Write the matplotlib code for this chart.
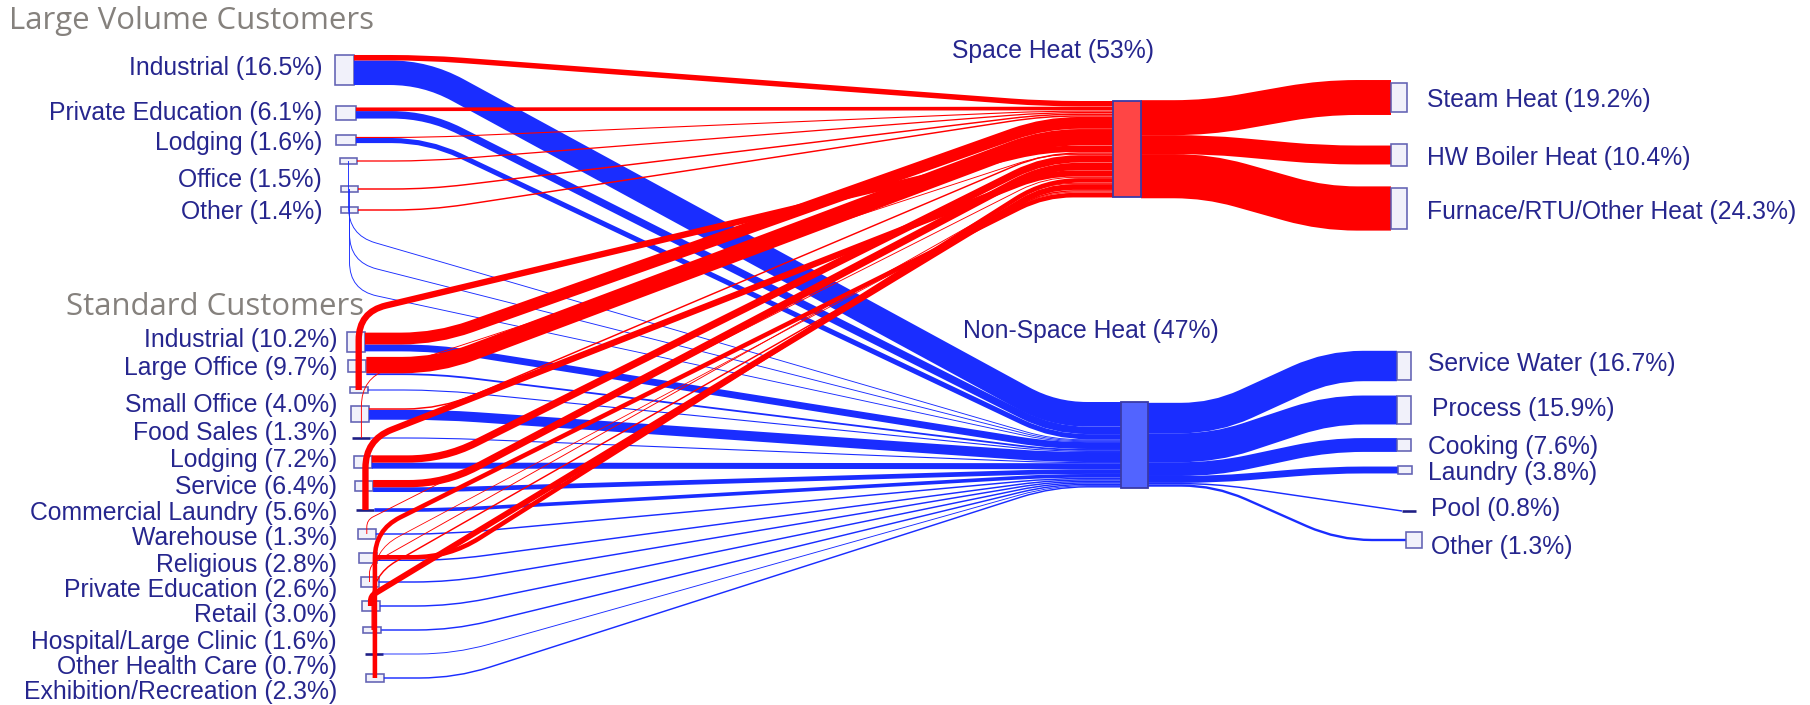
import numpy as np
import matplotlib
matplotlib.use("Agg")
import matplotlib.pyplot as plt
from matplotlib.path import Path
from matplotlib.patches import PathPatch, Rectangle

# ---------------- data (percent of total gas use) ----------------
lv_names = ["Industrial", "Private Education", "Lodging", "", "Office", "Other"]
lv_pct = [16.5, 6.1, 1.6, None, 1.5, 1.4]
lv_space = [3.0, 2.0, 0.6, 0.7, 0.8, 0.8]          # link widths to Space Heat
lv_nonspace = [13.5, 4.1, 2.8, 0.5, 0.5, 0.5]      # link widths to Non-Space Heat
lv_box = [16.1, 7.2, 5.0, 2.8, 2.8, 2.8]           # drawn node box heights

std_names = ["Industrial", "Large Office", "", "Small Office", "Food Sales", "Lodging",
             "Service", "Commercial Laundry", "Warehouse", "Religious",
             "Private Education", "Retail", "Hospital/Large Clinic",
             "Other Health Care", "Exhibition/Recreation"]
std_pct = [10.2, 9.7, None, 4.0, 1.3, 7.2, 6.4, 5.6, 1.3, 2.8, 2.6, 3.0, 1.6, 0.7, 2.3]
std_space = [6.5, 9.0, 3.5, 0.8, 0.5, 4.0, 4.0, 3.5, 0.5, 2.5, 0.5, 3.2, 0.8, 0.4, 2.5]
std_nonspace = [3.8, 1.0, 0.6, 5.5, 0.6, 3.3, 2.6, 2.0, 0.8, 0.8, 0.8, 0.8, 0.8, 0.5, 0.8]
std_box = [10.6, 6.7, 3.3, 8.3, 0, 6.7, 5.0, 0, 5.0, 5.6, 5.0, 5.0, 3.3, 0, 3.9]

mid_names = ["Space Heat", "Non-Space Heat"]
mid_pct = [53, 47]

sh_uses = ["Steam Heat", "HW Boiler Heat", "Furnace/RTU/Other Heat"]
sh_use_pct = [19.2, 10.4, 24.3]
sh_use_box = [16.1, 12.2, 22.8]
nsh_uses = ["Service Water", "Process", "Cooking", "Laundry", "Pool", "Other"]
nsh_use_pct = [16.7, 15.9, 7.6, 3.8, 0.8, 1.3]
nsh_use_box = [15.6, 15.6, 6.7, 3.9, 0, 8.3]

# ---------------- layout / style ----------------
K = 1.82                     # px per percent
RED = "#ff0000"
BLUE = "#1a2dff"
TXT = "#26268e"
TITLE = "#85817d"
BOX_FC = "#f1f1fa"
BOX_EC = "#5a5ab0"
LINE_EC = "#1e1e84"
FONT = "Liberation Sans"

lv_y = [70, 113, 140, 161, 189, 210]
lv_x = [335, 336, 336, 340, 341, 341]
lv_w = [19, 20, 20, 17, 17, 17]
lv_label_y = [68, 113, 143, None, 180, 212]
lv_label_x = 322
lv_nonspace_turn = [None, None, None, 235, 262, 290]

n_std = len(std_names)
std_y = [342 + 24 * i for i in range(n_std)]
std_x = [347 + 1.35 * i for i in range(n_std)]
std_w = [18] * n_std
std_label_y = [340, 368, None, 405, 433, 460, 487, 513, 538, 565, 590, 615, 642, 667, 692]
std_label_x = 337
std_space_turn = [None, None, 312, None, 378, None, None, 440, 520, None, 565, 596, 575, 550, 530]

mid_x = [1113, 1121]
mid_w = [28, 27]
mid_top = [101, 402]
mid_label_xy = [(1053, 51), (1091, 331)]

sh_use_y = [97.5, 155, 208.5]
sh_use_x = [1391, 1391, 1391]
nsh_use_y = [366, 410, 445, 470, 511, 540]
nsh_use_x = [1397, 1397, 1397, 1398, 1402, 1406]
use_w = 16
STUB_SRC = 72
STUB_IN = 68
STUB_OUT = 67

fig = plt.figure(figsize=(18.10, 7.05), dpi=100)
ax = fig.add_axes([0, 0, 1, 1])
ax.set_xlim(0, 1810)
ax.set_ylim(705, 0)
ax.axis("off")


def px2pt(px):
    return px * 72.0 / fig.dpi


def rounded(points, r):
    pts = [points[0]]
    for p in points[1:]:
        if np.hypot(p[0] - pts[-1][0], p[1] - pts[-1][1]) > 1e-6:
            pts.append(p)
    verts = [pts[0]]
    codes = [Path.MOVETO]
    for i in range(1, len(pts) - 1):
        A, C, B = np.array(pts[i - 1], float), np.array(pts[i], float), np.array(pts[i + 1], float)
        d1, d2 = C - A, B - C
        l1, l2 = np.hypot(*d1), np.hypot(*d2)
        re = min(r, l1 / 2, l2 / 2)
        q1 = C - d1 / l1 * re
        q2 = C + d2 / l2 * re
        verts += [tuple(q1), tuple(C), tuple(q2)]
        codes += [Path.LINETO, Path.CURVE3, Path.CURVE3]
    verts.append(pts[-1])
    codes.append(Path.LINETO)
    return Path(verts, codes)


def draw_link(points, width_pct, color, r, z):
    w = max(width_pct * K, 0.8)
    ax.add_patch(PathPatch(rounded(points, r), fill=False, edgecolor=color,
                           lw=px2pt(w), capstyle="butt", joinstyle="round", zorder=z))


# ---- build source nodes ----
sources = []
for i in range(len(lv_names)):
    sources.append(dict(x=lv_x[i], w=lv_w[i], y=lv_y[i], box=lv_box[i],
                        links=[(0, lv_space[i], None), (1, lv_nonspace[i], lv_nonspace_turn[i])]))
for i in range(n_std):
    sources.append(dict(x=std_x[i], w=std_w[i], y=std_y[i], box=std_box[i],
                        links=[(0, std_space[i], std_space_turn[i]), (1, std_nonspace[i], None)]))

links = []
for s in sources:
    hl = [l for l in s["links"] if l[2] is None]
    tot = sum(l[1] for l in hl) * K
    yy = s["y"] - tot / 2
    for tgt, v, turn in s["links"]:
        cx = s["x"] + s["w"] / 2
        if turn is None:
            sy = yy + v * K / 2
            yy += v * K
            links.append(dict(tgt=tgt, v=v, sx=s["x"] + s["w"], sy=sy, turn=None, order=s["y"]))
        else:
            links.append(dict(tgt=tgt, v=v, sx=cx, sy=s["y"], turn=turn, order=s["y"]))

for t in (0, 1):
    H = mid_pct[t] * K
    L = sorted([l for l in links if l["tgt"] == t], key=lambda d: d["order"])
    tot = sum(l["v"] for l in L) * K
    gap = max((H - tot) / (len(L) - 1), 0)
    yy = mid_top[t] + max((H - tot - gap * (len(L) - 1)) / 2, 0)
    for l in L:
        l["ty"] = yy + l["v"] * K / 2
        yy += l["v"] * K + gap

for t, color, z in ((1, BLUE, 2), (0, RED, 3)):
    for l in links:
        if l["tgt"] != t:
            continue
        tx = mid_x[t]
        if l["turn"] is None:
            pts = [(l["sx"], l["sy"]), (l["sx"] + STUB_SRC, l["sy"]),
                   (tx - STUB_IN, l["ty"]), (tx, l["ty"])]
            r = 40
        else:
            pts = [(l["sx"], l["sy"]), (l["sx"], l["turn"]),
                   (tx - STUB_IN, l["ty"]), (tx, l["ty"])]
            r = 28
        draw_link(pts, l["v"], color, r, z)

# ---- middle -> end uses ----
for t, uses_pct, uses_y, uses_x, color in ((0, sh_use_pct, sh_use_y, sh_use_x, RED),
                                            (1, nsh_use_pct, nsh_use_y, nsh_use_x, BLUE)):
    H = mid_pct[t] * K
    tot = sum(uses_pct) * K
    yy = mid_top[t] + (H - tot) / 2
    xr = mid_x[t] + mid_w[t]
    for j, v in enumerate(uses_pct):
        sy = yy + v * K / 2
        yy += v * K
        ty = uses_y[j]
        bx = uses_x[j]
        stub_in = 0 if (t == 1 and nsh_uses[j] == "Pool") else 68
        pts = [(xr, sy), (xr + STUB_OUT, sy), (bx - stub_in, ty), (bx, ty)]
        draw_link(pts, v, color, 40, 3)

# ---- node boxes ----
def node_box(x, yc, w, h_pct, z=4):
    h = h_pct * K
    if h <= 0.5:
        ax.plot([x, x + w], [yc, yc], color=LINE_EC, lw=px2pt(2.6),
                solid_capstyle="butt", zorder=z)
    else:
        ax.add_patch(Rectangle((x, yc - h / 2), w, h, facecolor=BOX_FC, edgecolor=BOX_EC,
                               lw=px2pt(1.6), zorder=z, alpha=0.95))

for s in sources:
    node_box(s["x"], s["y"], s["w"], s["box"], z=1)
for j in range(len(sh_uses)):
    node_box(sh_use_x[j], sh_use_y[j], use_w, sh_use_box[j])
for j in range(len(nsh_uses)):
    node_box(nsh_use_x[j], nsh_use_y[j], use_w - 2 if nsh_uses[j] != "Other" else 16,
             nsh_use_box[j])

mid_fc = ["#ff4545", "#5264ff"]
for t in (0, 1):
    ax.add_patch(Rectangle((mid_x[t], mid_top[t]), mid_w[t], mid_pct[t] * K,
                           facecolor=mid_fc[t], edgecolor="#3a3aa6", lw=px2pt(1.8), zorder=5))

# ---- text ----
FS = 17.8
def fmt(name, p):
    return f"{name} ({p}%)"

for i, n in enumerate(lv_names):
    if lv_label_y[i] is not None:
        ax.text(lv_label_x, lv_label_y[i], fmt(n, lv_pct[i]), ha="right", va="center",
                fontsize=FS, color=TXT, family=FONT)
for i, n in enumerate(std_names):
    if std_label_y[i] is not None:
        ax.text(std_label_x, std_label_y[i], fmt(n, std_pct[i]), ha="right", va="center",
                fontsize=FS, color=TXT, family=FONT)
for t in (0, 1):
    ax.text(*mid_label_xy[t], fmt(mid_names[t], mid_pct[t]), ha="center", va="center",
            fontsize=FS, color=TXT, family=FONT)
for j, n in enumerate(sh_uses):
    ax.text(1427, sh_use_y[j] + 3, fmt(n, sh_use_pct[j]), ha="left", va="center",
            fontsize=FS, color=TXT, family=FONT)
nsh_label_x = [1428, 1432, 1428, 1428, 1431, 1431]
nsh_label_y = [364, 409, 447, 473, 509, 547]
for j, n in enumerate(nsh_uses):
    ax.text(nsh_label_x[j], nsh_label_y[j], fmt(n, nsh_use_pct[j]), ha="left", va="center",
            fontsize=FS, color=TXT, family=FONT)

ax.text(9, 21, "Large Volume Customers", ha="left", va="center", fontsize=22.4,
        color=TITLE, family="Open Sans")
ax.text(66, 307, "Standard Customers", ha="left", va="center", fontsize=22.4,
        color=TITLE, family="Open Sans")

fig.savefig("out.png", dpi=100, facecolor="white")
